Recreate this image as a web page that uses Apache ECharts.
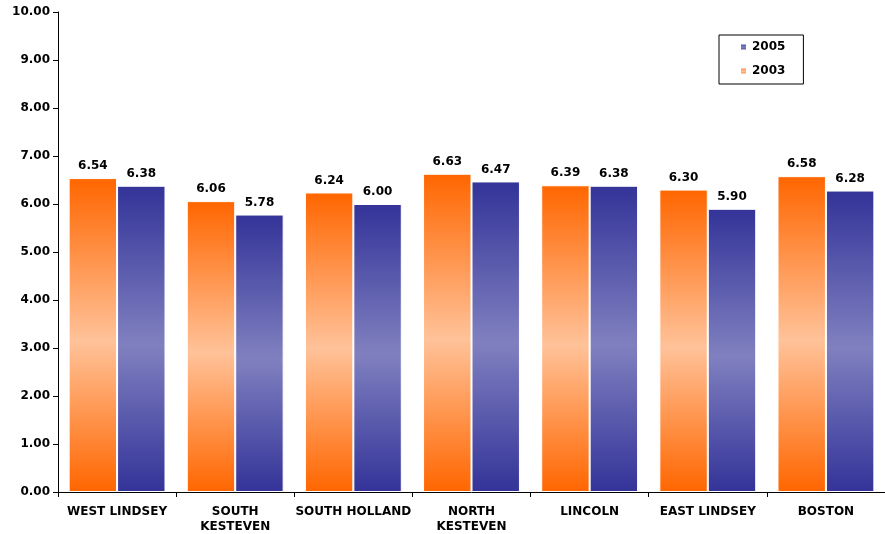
<!DOCTYPE html>
<html><head><meta charset="utf-8">
<script src="https://cdn.jsdelivr.net/npm/echarts@6/dist/echarts.min.js"></script>
<style>html,body{margin:0;padding:0;background:#fff}#c{width:885px;height:534px}</style>
</head><body><div id="c"></div>
<script>
var categories = ['WEST LINDSEY','SOUTH\nKESTEVEN','SOUTH HOLLAND','NORTH\nKESTEVEN','LINCOLN','EAST LINDSEY','BOSTON'];
var values2003 = [6.54, 6.06, 6.24, 6.63, 6.39, 6.30, 6.58];
var values2005 = [6.38, 5.78, 6.00, 6.47, 6.38, 5.90, 6.28];
var yTicks = {min: 0, max: 10, interval: 1};

var font = 'Verdana, "DejaVu Sans", sans-serif';
function grad(c1, c2) {
  return new echarts.graphic.LinearGradient(0, 0, 0, 1, [
    {offset: 0, color: c1}, {offset: 0.52, color: c2}, {offset: 1, color: c1}
  ]);
}
var chart = echarts.init(document.getElementById('c'));
chart.setOption({
  animation: false,
  grid: {left: 58, right: -11, top: 12, bottom: 40},
  legend: {
    orient: 'vertical', left: 719, top: 35,
    data: ['2005', '2003'],
    borderColor: '#000', borderWidth: 1,
    padding: [6, 18, 7, 20], itemGap: 12,
    itemWidth: 7, itemHeight: 7, icon: 'rect',
    textStyle: {fontFamily: font, fontWeight: 'bold', fontSize: 12, color: '#000'}
  },
  xAxis: {
    type: 'category', data: categories,
    axisLine: {lineStyle: {color: '#000'}},
    axisTick: {show: true, length: 5, lineStyle: {color: '#000'}},
    axisLabel: {fontFamily: font, fontWeight: 'bold', fontSize: 12, color: '#000', margin: 12, lineHeight: 15, interval: 0}
  },
  yAxis: {
    type: 'value', min: yTicks.min, max: yTicks.max, interval: yTicks.interval,
    axisLine: {show: true, lineStyle: {color: '#000'}},
    axisTick: {show: true, length: 5, lineStyle: {color: '#000'}},
    splitLine: {show: false},
    axisLabel: {fontFamily: font, fontWeight: 'bold', fontSize: 12, color: '#000', margin: 8,
      formatter: function (v) { return v.toFixed(2); }}
  },
  series: [
    {
      name: '2003', type: 'bar', data: values2003,
      barGap: '0%', barCategoryGap: '18%',
      itemStyle: {color: grad('#ff6600', '#ffc299'), borderColor: '#fff', borderWidth: 1},
      label: {show: true, position: 'top', fontFamily: font, fontWeight: 'bold', fontSize: 12, color: '#000', distance: 6,
        formatter: function (p) { return p.value.toFixed(2); }}
    },
    {
      name: '2005', type: 'bar', data: values2005,
      itemStyle: {color: grad('#333399', '#8080c0'), borderColor: '#fff', borderWidth: 1},
      label: {show: true, position: 'top', fontFamily: font, fontWeight: 'bold', fontSize: 12, color: '#000', distance: 6,
        formatter: function (p) { return p.value.toFixed(2); }}
    }
  ]
});
</script></body></html>
